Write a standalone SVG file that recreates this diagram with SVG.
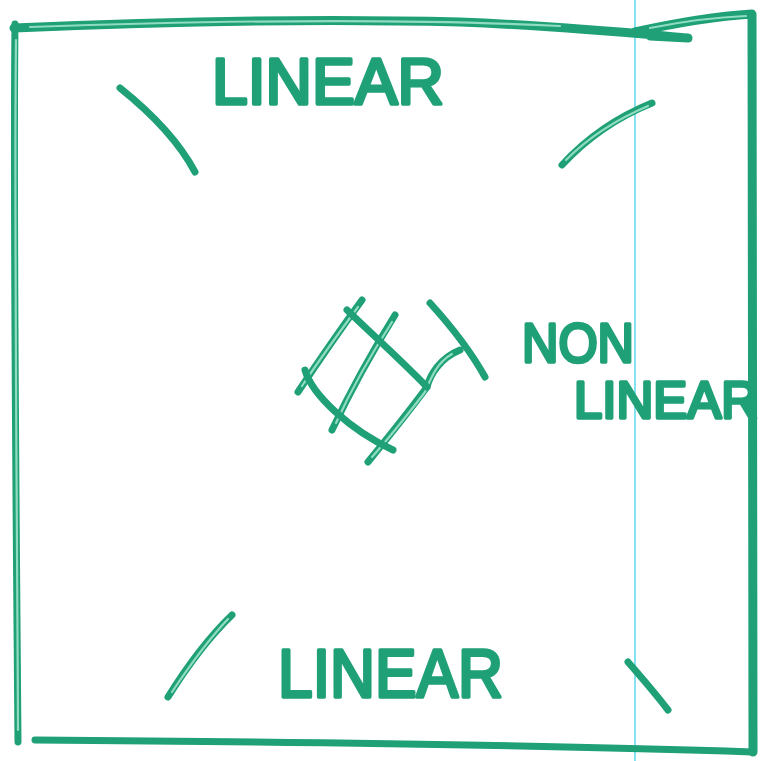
<svg xmlns="http://www.w3.org/2000/svg" width="775" height="761" viewBox="0 0 775 761">
<style>
.pen{fill:none;stroke:#1fa077;stroke-linecap:round;stroke-linejoin:round}
.thick{stroke-width:9}
.mid{stroke-width:7}
.hi{fill:none;stroke:#8fdcc0;stroke-width:2.2;stroke-linecap:round}
.lbl{font-family:"Liberation Sans","DejaVu Sans",sans-serif;font-weight:normal;fill:#1fa077;stroke:#1fa077;stroke-width:3.5;stroke-linejoin:round}
</style>
<rect width="775" height="761" fill="#ffffff"/>
<line x1="635" y1="0" x2="635" y2="761" stroke="#86e2ee" stroke-width="2"/>
<g id="frame">
<path class="pen thick" d="M14,28 C150,22 300,18 460,22 C560,26 620,32 688,38 L650,36"/>
<path class="hi" d="M30,27 C200,21 400,18 560,26"/>
<path class="pen thick" d="M635,32 C680,22 720,16 752,14 C754,200 752,500 753,752"/>
<path class="hi" d="M650,28 C690,20 720,17 746,16"/>
<path class="pen mid" d="M15,24 C13,200 16,500 18,742"/>
<path class="hi" d="M16,40 C14,200 17,500 18,730"/>
<path class="pen mid" d="M35,740 C300,742 550,745 752,752"/>
</g>
<g id="strokes">
<path class="pen mid" d="M120,88 C150,112 178,140 195,172"/>
<path class="pen mid" d="M562,165 C585,140 615,118 652,103"/>
<path class="hi" d="M566,160 C588,138 615,120 648,106"/>
<path class="pen mid" d="M168,697 C188,665 208,638 232,615"/>
<path class="hi" d="M172,692 C190,665 208,640 228,619"/>
<path class="pen mid" d="M628,662 C642,678 655,693 668,710"/>
</g>
<g id="mesh">
<path class="pen mid" d="M362,300 C340,330 318,362 298,392"/>
<path class="hi" d="M358,307 C338,334 318,362 302,386"/>
<path class="pen mid" d="M395,315 C372,352 350,392 332,430"/>
<path class="hi" d="M392,322 C370,356 350,392 336,423"/>
<path class="pen mid" d="M460,350 C440,358 430,375 427,387 C410,410 390,435 368,462"/>
<path class="hi" d="M452,354 C438,362 432,375 425,392 C408,414 390,437 372,457"/>
<path class="pen mid" d="M347,310 C375,337 403,362 427,387"/>
<path class="pen mid" d="M305,370 C312,395 350,430 393,450"/>
<path class="pen mid" d="M430,303 C450,325 470,350 485,377"/>
</g>
<g id="label-top"><text class="lbl" x="212" y="104" font-size="64" textLength="232" lengthAdjust="spacingAndGlyphs">LINEAR</text></g>
<g id="label-nonlinear">
<text class="lbl" x="522" y="362" font-size="56" textLength="112" lengthAdjust="spacingAndGlyphs">NON</text>
<text class="lbl" x="574" y="418" font-size="52" textLength="184" lengthAdjust="spacingAndGlyphs">LINEAR</text>
</g>
<g id="label-bottom"><text class="lbl" x="278" y="697" font-size="68" textLength="225" lengthAdjust="spacingAndGlyphs">LINEAR</text></g>
</svg>
